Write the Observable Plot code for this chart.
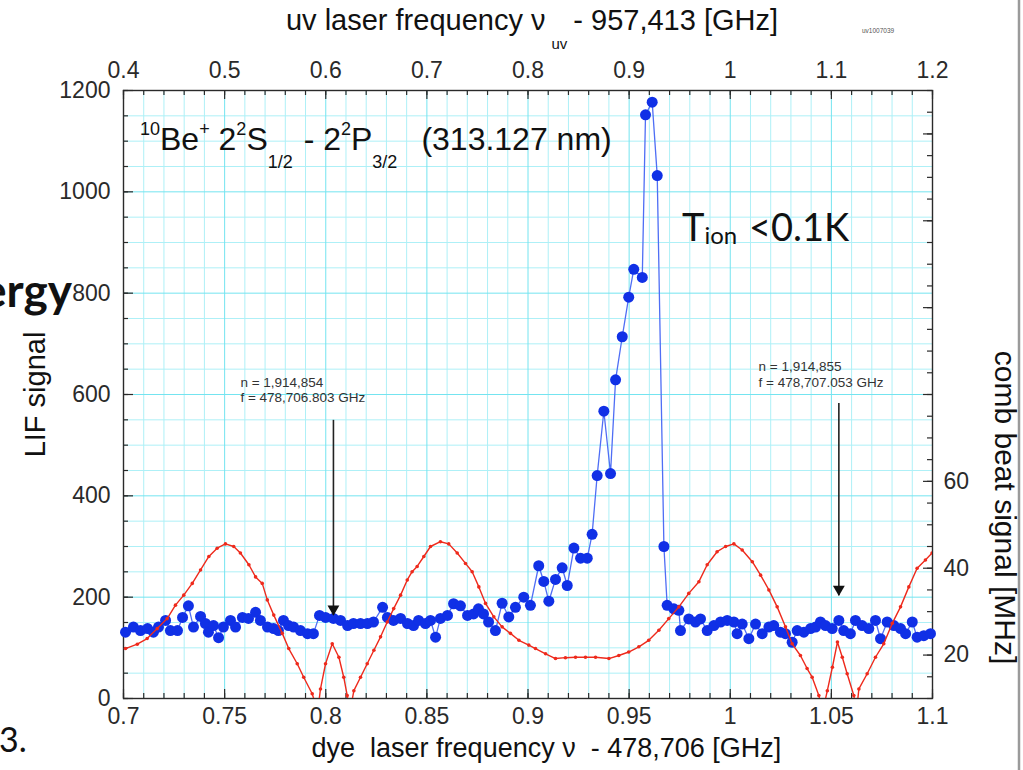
<!DOCTYPE html>
<html><head><meta charset="utf-8">
<script src="https://cdn.jsdelivr.net/npm/d3@7"></script>
<script src="https://cdn.jsdelivr.net/npm/@observablehq/plot@0.6"></script>
<style>body{margin:0;background:#fff;overflow:hidden}</style>
</head><body><div id="chart"></div>
<script>
// ---- LIF signal (blue), dye laser frequency - 478,706 GHz
const lifF = [0.7010,0.7049,0.7084,0.7119,0.7148,0.7173,0.7208,0.7232,0.7267,0.7292,0.7321,0.7346,0.7381,0.7405,0.7420,0.7445,0.7470,0.7494,0.7529,0.7554,0.7588,0.7618,0.7653,0.7677,0.7712,0.7742,0.7766,0.7791,0.7816,0.7841,0.7875,0.7910,0.7939,0.7969,0.7999,0.8038,0.8073,0.8108,0.8137,0.8172,0.8206,0.8236,0.8281,0.8305,0.8335,0.8370,0.8404,0.8434,0.8459,0.8493,0.8518,0.8543,0.8567,0.8602,0.8632,0.8666,0.8701,0.8731,0.8755,0.8780,0.8805,0.8839,
  0.8872,0.8905,0.8938,0.8979,0.9012,0.9053,0.9078,0.9103,0.9136,0.9169,0.9194,0.9227,0.9260,0.9293,0.9317,0.9342,0.9375,0.9408,0.9433,0.9466,0.9498,0.9523,0.9565,0.9581,0.9614,0.9639,0.9672,
  0.9688,0.9721,0.9746,0.9754,0.9795,0.9828,0.9853,0.9886,0.9919,0.9952,0.9985,1.0018,1.0034,1.0059,1.0092,1.0125,1.0158,1.0191,1.0215,1.0248,1.0273,1.0306,1.0331,1.0364,1.0397,1.0422,1.0446,1.0471,1.0504,1.0537,1.0561,1.0594,1.0619,1.0652,1.0685,1.0718,1.0743,1.0776,1.0809,1.0842,1.0867,1.0900,1.0924,1.0957,1.0990];
const lifV = [131,141,134,138,131,141,154,134,134,160,183,141,162,148,131,144,120,141,154,141,160,158,170,154,141,138,134,154,144,141,134,128,128,164,160,158,154,144,148,148,148,151,180,160,154,158,148,144,154,148,154,121,158,164,187,183,164,167,177,167,151,134,
  188,161,180,200,184,262,231,192,235,258,223,297,277,277,324,440,567,444,629,714,792,847,831,1152,1177,1032,300,
  184,177,174,134,157,151,157,134,144,151,154,151,128,147,118,147,128,141,144,131,128,111,134,131,138,141,151,144,138,154,134,128,154,144,138,154,118,151,144,138,128,151,121,124,128];

// ---- comb beat signal (red), MHz
const combF = [0.7010,0.7068,0.7117,0.7167,0.7216,0.7257,0.7298,0.7340,0.7381,0.7422,0.7463,0.7504,0.7545,0.7578,0.7620,0.7653,0.7686,0.7711,0.7743,0.7785,0.7817,0.7859,0.7891,0.7933,0.7960,0.7974,0.7999,0.8032,0.8065,0.8089,0.8106,0.8120,0.8139,0.8172,0.8205,0.8238,0.8271,0.8304,0.8336,0.8370,0.8403,0.8427,0.8452,0.8485,0.8518,0.8567,0.8608,0.8650,0.8691,0.8724,0.8757,0.8790,0.8831,0.8872,0.8913,0.8955,0.9004,0.9037,0.9087,0.9136,0.9185,0.9235,0.9284,0.9334,0.9400,0.9449,0.9498,0.9548,0.9597,0.9647,0.9696,0.9746,0.9795,0.9845,0.9886,0.9935,0.9977,1.0018,1.0059,1.0109,1.0150,1.0191,1.0232,1.0273,1.0306,1.0347,1.0380,1.0405,1.0438,1.0457,1.0480,1.0505,1.0530,1.0554,1.0578,1.0611,1.0624,1.0636,1.0677,1.0718,1.0759,1.0801,1.0842,1.0883,1.0924,1.0965,1.0998];
const combM = [21.5,22.5,23.8,26.1,28.4,31.5,33.8,36.5,39.6,42.7,44.6,45.6,45.0,43.5,40.8,38.0,36.5,32.7,29.2,25.0,21.5,18.0,14.9,11.1,7.0,12.2,18.0,22.6,19.5,14.9,10.7,7.0,11.8,14.9,18.0,21.1,24.2,27.6,30.7,33.8,37.3,39.2,40.4,42.7,45.0,46.1,45.6,43.5,41.1,39.2,35.7,31.9,28.8,26.5,25.0,23.4,22.3,21.5,20.3,19.2,19.4,19.5,19.5,19.5,19.2,19.9,20.7,21.9,23.4,25.7,28.4,31.1,34.2,36.9,40.8,43.8,45.0,45.6,44.2,41.5,38.4,35.0,31.1,26.5,22.6,19.9,16.9,14.9,10.7,7.0,11.8,17.2,23.0,19.5,15.7,10.7,7.0,12.2,15.7,19.5,22.6,27.3,31.1,35.7,40.0,41.9,43.5];

// ---- axes
const bottomTicks = [0.7,0.75,0.8,0.85,0.9,0.95,1,1.05,1.1];
const bottomLabels = ["0.7","0.75","0.8","0.85","0.9","0.95","1","1.05","1.1"];
const topTicks = [0.4,0.5,0.6,0.7,0.8,0.9,1,1.1,1.2];
const topLabels = ["0.4","0.5","0.6","0.7","0.8","0.9","1","1.1","1.2"];
const leftTicks = [0,200,400,600,800,1000,1200];
const rightTicks = [20,40,60];
const mhzDomain = [10,150];   // right axis span over LIF 0..1200

// ---- annotations
const markers = [
  {f:0.8038, top:549, tip:164, n:"n = 1,914,854", fr:"f = 478,706.803 GHz", tf:0.7578, tv:624},
  {f:1.0537, top:582, tip:203, n:"n = 1,914,855", fr:"f = 478,707.053 GHz", tf:1.0140, tv:654}
];

const toLif = m => (m - mhzDomain[0]) * 1200 / (mhzDomain[1] - mhzDomain[0]);
const uvToDye = u => 0.7 + (u - 0.4) / 2;
const lif = lifF.map((f,i) => ({f, v: lifV[i]}));
const comb = combF.map((f,i) => ({f, v: toLif(combM[i])}));

const W = 1023, H = 770, mL = 123, mR = 91, mT = 90, mB = 72;
const plotH = H - mT - mB, plotW = W - mL - mR;
const font = "Liberation Sans, Arial, Helvetica, sans-serif";
const ink = "#2a2a2a";
const red = "#ee2a1c", blue = "#1030e6", blueLine = "#4f6ef5";

const xMinor = d3.range(70, 111).map(d => d / 100);
const xMajor = d3.range(14, 23).map(d => d / 20);
const yMinor = d3.range(0, 1201, 50);
const yMajor = d3.range(0, 1201, 200);
const rMinor = d3.range(10, 151, 5).map(toLif);
const rMajor = d3.range(20, 141, 20).map(toLif);

const chart = Plot.plot({
  width: W, height: H,
  marginLeft: mL, marginRight: mR, marginTop: mT, marginBottom: mB,
  style: {fontFamily: font, background: "#fff", color: ink},
  x: {domain: [0.7, 1.1], axis: null},
  y: {domain: [0, 1200], axis: null},
  marks: [
    Plot.ruleX(xMinor.filter(d => !xMajor.some(m => Math.abs(m-d) < 1e-6)), {x: d => d, stroke: "#aef0f7", strokeWidth: 1}),
    Plot.ruleY(yMinor.filter(d => d % 200), {y: d => d, stroke: "#aef0f7", strokeWidth: 1}),
    Plot.ruleX(xMajor, {x: d => d, stroke: "#74e4f0", strokeWidth: 1}),
    Plot.ruleY(yMajor, {y: d => d, stroke: "#74e4f0", strokeWidth: 1}),
    // inward ticks
    Plot.ruleX(xMinor, {x: d => d, insetTop: plotH - 5, stroke: ink, strokeWidth: 1.2}),
    Plot.ruleX(xMajor, {x: d => d, insetTop: plotH - 9, stroke: ink, strokeWidth: 1.2}),
    Plot.ruleX(xMinor, {x: d => d, insetBottom: plotH - 5, stroke: ink, strokeWidth: 1.2}),
    Plot.ruleX(xMajor, {x: d => d, insetBottom: plotH - 9, stroke: ink, strokeWidth: 1.2}),
    Plot.ruleY(yMinor, {y: d => d, insetRight: plotW - 5, stroke: ink, strokeWidth: 1.2}),
    Plot.ruleY(yMajor, {y: d => d, insetRight: plotW - 10, stroke: ink, strokeWidth: 1.2}),
    Plot.ruleY(rMinor, {y: d => d, insetLeft: plotW - 5, stroke: ink, strokeWidth: 1.2}),
    Plot.ruleY(rMajor, {y: d => d, insetLeft: plotW - 9, stroke: ink, strokeWidth: 1.2}),
    Plot.frame({stroke: ink, strokeWidth: 1.4}),
    // tick labels
    Plot.text(bottomTicks, {x: d => d, text: (d, i) => bottomLabels[i], frameAnchor: "bottom", lineAnchor: "middle", dy: 18, fontSize: 23, fill: ink}),
    Plot.text(topTicks, {x: uvToDye, text: (d, i) => topLabels[i], frameAnchor: "top", lineAnchor: "middle", dy: -20, fontSize: 23, fill: ink}),
    Plot.text(leftTicks, {y: d => d, text: d => String(d), frameAnchor: "left", textAnchor: "end", dx: -13, fontSize: 23, fill: ink}),
    Plot.text(rightTicks, {y: toLif, text: d => String(d), frameAnchor: "right", textAnchor: "start", dx: 11, fontSize: 23, fill: ink}),
    // axis titles
    Plot.text(["dye\u00a0 laser frequency \u03bd\u00a0 - 478,706 [GHz]"], {x: 0.9091, frameAnchor: "bottom", lineAnchor: "middle", dy: 50, fontSize: 27, fill: "#111"}),
    Plot.text(["LIF signal"], {frameAnchor: "left", textAnchor: "middle", dx: -88, rotate: -90, fontSize: 29, fill: "#111"}),
    Plot.text(["comb beat signal [MHz]"], {y: 377, frameAnchor: "right", textAnchor: "middle", dx: 72, rotate: 90, fontSize: 30, fill: "#111"}),
    // data
    Plot.line(lif, {x: "f", y: "v", stroke: blueLine, strokeWidth: 1.3}),
    Plot.dot(lif, {x: "f", y: "v", r: 5.5, fill: blue}),
    Plot.line(comb, {x: "f", y: "v", stroke: red, strokeWidth: 1.4, clip: true}),
    Plot.dot(comb, {x: "f", y: "v", r: 1.8, fill: red, clip: true}),
    // markers
    Plot.ruleX(markers, {x: "f", y1: "top", y2: "tip", stroke: "#222", strokeWidth: 1.6}),
    Plot.dot(markers, {x: "f", y: "tip", symbol: "triangle", rotate: 180, r: 4.4, fill: "#111", dy: -6.5}),
    Plot.text(markers, {x: "tf", y: "tv", text: "n", textAnchor: "start", fontSize: 13.5, fill: "#333"}),
    Plot.text(markers, {x: "tf", y: d => d.tv - 31, text: "fr", textAnchor: "start", fontSize: 13.5, fill: "#333"})
  ]
});
document.getElementById("chart").appendChild(chart);

// ---- rich text annotations (super/subscripts)
const X = chart.scale("x").apply, Y = chart.scale("y").apply;
const svg = d3.select(chart);
function rich(parent, x, y, size, pieces, attrs = {}) {
  const t = parent.append("text").attr("x", x).attr("y", y).attr("font-size", size);
  for (const k in attrs) t.attr(k, attrs[k]);
  let prev = 0;
  for (const p of pieces) {
    const sh = p.sh || 0;
    const ts = t.append("tspan").attr("dy", sh - prev).text(p.t);
    if (p.s) ts.attr("font-size", p.s);
    if (p.dx) ts.attr("dx", p.dx);
    prev = sh;
  }
  return t;
}
const g = svg.append("g").attr("font-family", font).attr("fill", "#111").attr("text-anchor", "start");
rich(g, X(0.7084), Y(1081), 32, [
  {t: "10", s: 18, sh: -15}, {t: "Be"}, {t: "+", s: 18, sh: -15}, {t: " 2"}, {t: "2", s: 18, sh: -15},
  {t: "S"}, {t: "1/2", s: 18, sh: 18}, {t: " - 2", dx: 2}, {t: "2", s: 18, sh: -15}, {t: "P"},
  {t: "3/2", s: 18, sh: 18}, {t: "(313.127 nm)", dx: 24}
]);
rich(g, X(0.9764), Y(902), 38, [
  {t: "T"}, {t: "ion", s: 24, sh: 3}, {t: " <0.1K", dx: 2}
], {"font-family": "Lato, 'Open Sans', sans-serif"});
rich(g, 532, 30, 29, [
  {t: "uv laser frequency \u03bd"}, {t: "uv", s: 15, sh: 19, dx: 6}, {t: "- 957,413 [GHz]", dx: 6}
], {"text-anchor": "middle"});
g.append("text").attr("x", 862).attr("y", 33).attr("font-size", 6.5).attr("fill", "#555").text("uv1007039");
// slide fragments around the figure
g.append("text").attr("x", 72).attr("y", 307).attr("text-anchor", "end").attr("font-size", 46)
  .attr("font-weight", "bold").attr("font-family", "Lato, sans-serif").text("Energy");
g.append("text").attr("x", -1).attr("y", 752).attr("font-size", 34).attr("font-family", "Lato, sans-serif").text("3.");
svg.append("line").attr("x1", 1019).attr("x2", 1019).attr("y1", 0).attr("y2", H).attr("stroke", "#9a9a9a").attr("stroke-width", 2.5);
</script>
</body></html>
